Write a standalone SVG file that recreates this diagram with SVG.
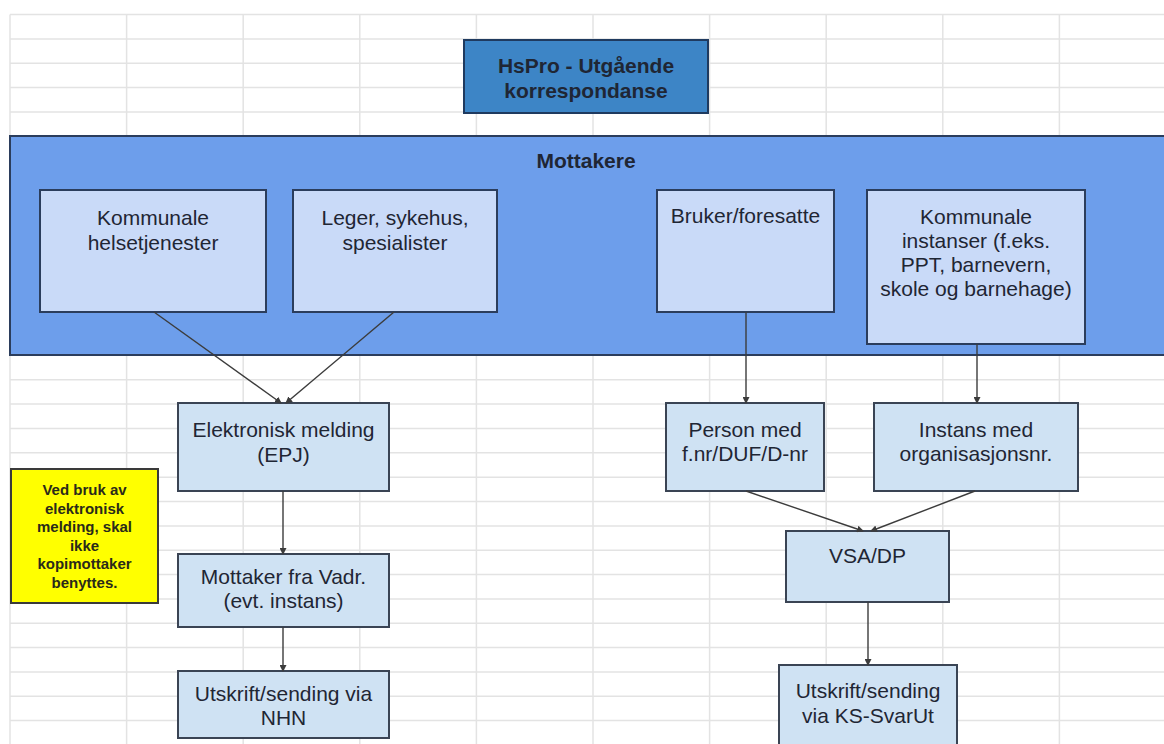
<svg xmlns="http://www.w3.org/2000/svg" width="1164" height="744" viewBox="0 0 1164 744">
<defs>
<style>
.grid{stroke:#e3e3e3;stroke-width:1.5;fill:none}
.lbl{font-family:"Liberation Sans",Arial,sans-serif;font-size:21px;fill:#1f2634;text-anchor:middle}
.bold{font-weight:bold}
.title{fill:#3d85c6;stroke:#1f3a5f;stroke-width:2}
.band{fill:#6d9eeb;stroke:#2b3d5c;stroke-width:2}
.up{fill:#c9daf8;stroke:#2b3d5c;stroke-width:2}
.low{fill:#cfe2f3;stroke:#3a4454;stroke-width:2}
.note{fill:#ffff00;stroke:#3a3a3a;stroke-width:2}
.note-t{font-family:"Liberation Sans",Arial,sans-serif;font-size:15px;font-weight:bold;fill:#2a2a1a;text-anchor:middle}
.conn{stroke:#3c3c3c;stroke-width:1.4;fill:none;marker-end:url(#ah)}
</style>
<marker id="ah" markerWidth="7" markerHeight="7" refX="6" refY="3.5" orient="auto" markerUnits="userSpaceOnUse">
<path d="M0,0 L7,3.5 L0,7 Z" fill="#3c3c3c"/>
</marker>
</defs>
<rect width="1164" height="744" fill="#ffffff"/>
<g id="grid">
<path class="grid" d="M10,14.5H1164 M10,39H1164 M10,63.3H1164 M10,87.6H1164 M10,112H1164 M10,136.3H1164 M10,379.8H1164 M10,404.1H1164 M10,428.5H1164 M10,452.8H1164 M10,477.2H1164 M10,501.5H1164 M10,525.9H1164 M10,550.2H1164 M10,574.6H1164 M10,598.9H1164 M10,623.3H1164 M10,647.6H1164 M10,672H1164 M10,696.3H1164 M10,720.6H1164"/>
<path class="grid" d="M10,14.5V744 M126.6,14.5V744 M243.2,14.5V744 M359.8,14.5V744 M476.4,14.5V744 M593,14.5V744 M709.6,14.5V744 M826.2,14.5V744 M942.8,14.5V744 M1059.4,14.5V744"/>
</g>
<g id="title">
<rect class="title" x="464" y="40" width="244" height="73"/>
<text class="lbl bold" x="586" y="72.5">HsPro - Utgående</text>
<text class="lbl bold" x="586" y="97.5">korrespondanse</text>
</g>
<g id="mottakere">
<rect class="band" x="10" y="136" width="1160" height="219"/>
<text class="lbl bold" x="586" y="167.5">Mottakere</text>
</g>
<g id="kommunale-helse">
<rect class="up" x="40" y="190" width="226" height="122"/>
<text class="lbl" x="153" y="225">Kommunale</text>
<text class="lbl" x="153" y="250">helsetjenester</text>
</g>
<g id="leger">
<rect class="up" x="293" y="190" width="204" height="122"/>
<text class="lbl" x="395" y="225">Leger, sykehus,</text>
<text class="lbl" x="395" y="250">spesialister</text>
</g>
<g id="bruker">
<rect class="up" x="657" y="190" width="177" height="122"/>
<text class="lbl" x="745.5" y="223">Bruker/foresatte</text>
</g>
<g id="kommunale-instanser">
<rect class="up" x="867" y="190" width="218" height="154"/>
<text class="lbl" x="976" y="224">Kommunale</text>
<text class="lbl" x="976" y="248">instanser (f.eks.</text>
<text class="lbl" x="976" y="272">PPT, barnevern,</text>
<text class="lbl" x="976" y="296">skole og barnehage)</text>
</g>
<g id="epj">
<rect class="low" x="178" y="403" width="211" height="88"/>
<text class="lbl" x="283.5" y="437">Elektronisk melding</text>
<text class="lbl" x="283.5" y="462">(EPJ)</text>
</g>
<g id="mottaker-vadr">
<rect class="low" x="178" y="554" width="211" height="73"/>
<text class="lbl" x="283.5" y="584">Mottaker fra Vadr.</text>
<text class="lbl" x="283.5" y="608">(evt. instans)</text>
</g>
<g id="nhn">
<rect class="low" x="178" y="671" width="211" height="67"/>
<text class="lbl" x="283.5" y="701">Utskrift/sending via</text>
<text class="lbl" x="283.5" y="725">NHN</text>
</g>
<g id="person">
<rect class="low" x="666" y="403" width="158" height="88"/>
<text class="lbl" x="745" y="437">Person med</text>
<text class="lbl" x="745" y="461">f.nr/DUF/D-nr</text>
</g>
<g id="instans">
<rect class="low" x="874" y="403" width="204" height="88"/>
<text class="lbl" x="976" y="437">Instans med</text>
<text class="lbl" x="976" y="461">organisasjonsnr.</text>
</g>
<g id="vsa">
<rect class="low" x="786" y="531" width="163" height="71"/>
<text class="lbl" x="867.5" y="563">VSA/DP</text>
</g>
<g id="ks-svarut">
<rect class="low" x="779" y="665" width="178" height="85"/>
<text class="lbl" x="868" y="698">Utskrift/sending</text>
<text class="lbl" x="868" y="723">via KS-SvarUt</text>
</g>
<g id="note">
<rect class="note" x="11" y="469" width="147" height="134"/>
<text class="note-t" x="84.5" y="495">Ved bruk av</text>
<text class="note-t" x="84.5" y="513.5">elektronisk</text>
<text class="note-t" x="84.5" y="532">melding, skal</text>
<text class="note-t" x="84.5" y="550.5">ikke</text>
<text class="note-t" x="84.5" y="569">kopimottaker</text>
<text class="note-t" x="84.5" y="587.5">benyttes.</text>
</g>
<g id="connectors">
<path class="conn" d="M154,312 L281,403"/>
<path class="conn" d="M394,312 L286,403"/>
<path class="conn" d="M283,491 L283,554"/>
<path class="conn" d="M283,627 L283,671"/>
<path class="conn" d="M746,312 L746,403"/>
<path class="conn" d="M977,344 L977,403"/>
<path class="conn" d="M746,491 L863,531"/>
<path class="conn" d="M975,491 L871,531"/>
<path class="conn" d="M868,602 L868,665"/>
</g>
</svg>
